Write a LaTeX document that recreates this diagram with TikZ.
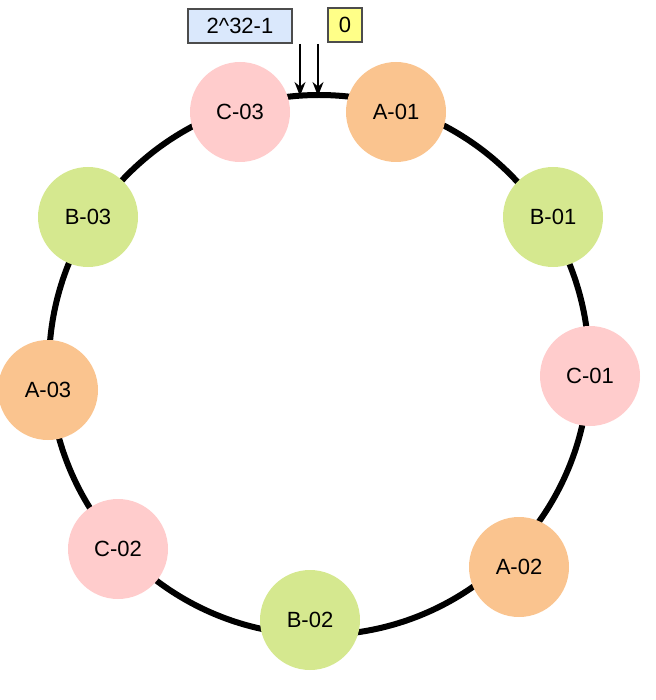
\documentclass[tikz,border=0pt]{standalone}
\usepackage{fontspec}
\setmainfont{Liberation Sans}
\usetikzlibrary{arrows.meta}
\definecolor{cor}{HTML}{FAC48F}
\definecolor{cgr}{HTML}{D5E88F}
\definecolor{cpk}{HTML}{FFCCCC}
\definecolor{cbl}{HTML}{DAE8FC}
\definecolor{cye}{HTML}{FFFF88}
\begin{document}
\begin{tikzpicture}[x=1pt,y=-1pt,
  vn/.style={circle,minimum size=100pt,inner sep=0pt,font=\fontsize{22}{26}\selectfont},
  lab/.style={draw=black!70,line width=1.3pt,inner sep=3pt,font=\fontsize{22}{26}\selectfont,minimum height=34pt},
  arr/.style={-{Stealth[length=14pt,width=11pt]},line width=1.5pt}]
\useasboundingbox (0,0) rectangle (655,700);
\draw[line width=6pt] (319,365) circle (270);
\node[vn,fill=cpk] (c3) at (240,112) {C-03};
\node[vn,fill=cor] (a1) at (396,112) {A-01};
\node[vn,fill=cgr] (b3) at (88,217) {B-03};
\node[vn,fill=cgr] (b1) at (553,217) {B-01};
\node[vn,fill=cor] (a3) at (48,390) {A-03};
\node[vn,fill=cpk] (c1) at (590,376) {C-01};
\node[vn,fill=cpk] (c2) at (118,549) {C-02};
\node[vn,fill=cor] (a2) at (519,567) {A-02};
\node[vn,fill=cgr] (b2) at (310,620) {B-02};
\node[lab,fill=cbl,minimum width=104pt] (l1) at (240,26) {2\^{}32-1};
\node[lab,fill=cye,minimum width=34pt] (l0) at (345,25) {0};
\coordinate (p1) at (300,96);
\coordinate (p0) at (318,96);
\draw[arr] (300,44) -- (p1);
\draw[arr] (318,44) -- (p0);
\end{tikzpicture}
\end{document}
